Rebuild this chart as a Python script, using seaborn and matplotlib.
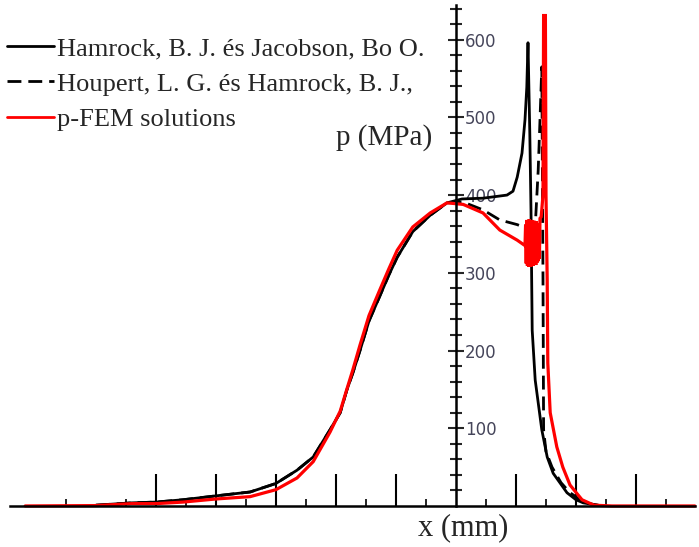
import numpy as np
import matplotlib as mpl
mpl.use("Agg")
import matplotlib.pyplot as plt
import seaborn as sns
from matplotlib.lines import Line2D

# Pressure distributions along x (x in tick units, p in MPa)
x_hamrock = [-6.0, -5.4, -5.0, -4.55, -4.0, -3.43, -3.0, -2.65, -2.38, -2.1, -1.93, -1.82,
             -1.72, -1.6, -1.45, -1.27, -1.12, -0.98, -0.72, -0.43, -0.15, 0.1, 0.45,
             0.85, 0.95, 1.02, 1.1, 1.15, 1.18, 1.2, 1.23, 1.25, 1.26, 1.27, 1.32, 1.43,
             1.52, 1.62, 1.85, 2.0, 2.12, 2.4]
p_hamrock = [1, 4, 5, 8, 13, 18, 29, 46, 63, 98, 120, 149,
             171, 200, 238, 270, 297, 320, 353, 374, 390, 395, 396,
             400, 405, 423, 454, 497, 539, 596, 480, 380, 300, 226, 162, 98,
             63, 42, 17, 8, 4, 0.5]

x_houpert = [-6.0, -5.4, -5.0, -4.55, -4.0, -3.43, -3.0, -2.65, -2.38, -2.1, -1.93, -1.82,
             -1.72, -1.6, -1.45, -1.27, -1.12, -0.98, -0.72, -0.43, -0.15, 0.12, 0.45,
             0.73, 1.02, 1.15, 1.25, 1.32, 1.37, 1.4, 1.43, 1.45, 1.46, 1.5, 1.6, 1.75,
             1.9, 2.15, 2.4]
p_houpert = [1, 4, 5, 8, 13, 18, 29, 46, 63, 98, 120, 149,
             171, 200, 238, 270, 297, 320, 353, 374, 390, 391, 381,
             368, 362, 358, 357, 359, 432, 497, 565, 291, 98, 70, 50, 30,
             17, 4, 0.5]

x_pfem = [-7.18, -6.0, -5.4, -5.0, -4.55, -4.0, -3.43, -3.0, -2.65, -2.38, -2.1, -1.93,
          -1.82, -1.72, -1.6, -1.45, -1.27, -1.12, -0.98, -0.72, -0.43, -0.15, 0.12,
          0.45, 0.73, 1.02, 1.15,
          1.16, 1.17, 1.18, 1.19, 1.2, 1.21, 1.22, 1.23, 1.24, 1.25, 1.26, 1.27, 1.28,
          1.29, 1.3, 1.31, 1.32, 1.33, 1.34, 1.35, 1.36, 1.37, 1.38, 1.39, 1.4,
          1.42, 1.45, 1.46, 1.49, 1.5, 1.52, 1.53, 1.57, 1.68, 1.78, 1.9, 2.1, 2.3,
          2.6, 3.98]
p_pfem = [0, 0.5, 3, 3, 5, 9, 12, 21, 36, 57, 95, 122,
          150, 175, 207, 245, 278, 305, 329, 359, 377, 390, 388,
          377, 355, 342, 335,
          362, 312, 368, 309, 366, 308, 369, 310, 367, 308, 368, 311, 366,
          309, 367, 312, 365, 310, 366, 313, 364, 315, 362, 318, 370,
          372, 400, 631, 631, 400, 291, 184, 120, 76, 50, 27, 8, 1,
          0, 0]

labels = ["Hamrock, B. J. és Jacobson, Bo O.",
          "Houpert, L. G. és Hamrock, B. J.,",
          "p-FEM solutions"]
y_ticks = [100, 200, 300, 400, 500, 600]

sns.set_style("white")
plt.rcParams["font.family"] = ["DejaVu Sans"]

fig = plt.figure(figsize=(6.99, 5.47), dpi=100)
ax = fig.add_axes([0, 0, 1, 1])

dash = (0, (5, 2.5))
sns.lineplot(x=x_hamrock, y=p_hamrock, sort=False, estimator=None, ax=ax,
             color="black", lw=2.0)
sns.lineplot(x=x_houpert, y=p_houpert, sort=False, estimator=None, ax=ax,
             color="black", lw=2.0, linestyle=dash)
sns.lineplot(x=x_pfem, y=p_pfem, sort=False, estimator=None, ax=ax,
             color="#ff0000", lw=2.3, solid_joinstyle="miter")

ax.set_xlim(-7.6, 4.05)
ax.set_ylim(-52.8, 651)

# axes crossing at the origin
for s in ["top", "left"]:
    ax.spines[s].set_visible(False)
ax.spines["right"].set_position(("data", 0))
ax.spines["bottom"].set_position(("data", 0))
ax.spines["right"].set_bounds(0, 645)
ax.spines["bottom"].set_bounds(-7.43, 3.98)
for s in ["right", "bottom"]:
    ax.spines[s].set_color("black")
    ax.spines[s].set_linewidth(1.8)

ax.yaxis.tick_right()
ax.set_yticks(y_ticks)
ax.set_yticks(np.arange(20, 660, 20), minor=True)
ax.tick_params(axis="y", which="major", direction="inout", length=11, width=1.5,
               pad=1, labelsize=12, labelcolor="#45455a", right=True)
ax.tick_params(axis="y", which="minor", direction="inout", length=8, width=1.5,
               right=True)

ax.set_xticks([-5, -4, -3, -2, -1, 1, 2, 3])
ax.set_xticks(np.arange(-6.5, 4, 1.0), minor=True)
ax.set_xticklabels([])
ax.tick_params(axis="x", which="major", direction="in", length=23, width=1.5,
               bottom=True, color="black")
ax.tick_params(axis="x", which="minor", direction="in", length=5, width=1.2,
               bottom=True, color="black")

ax.text(-1.2, 474, "p (MPa)", family="Liberation Serif", fontsize=21,
        ha="center", va="center")
ax.text(0.12, -28, "x (mm)", family="Liberation Serif", fontsize=22,
        ha="center", va="center")

handles = [Line2D([], [], color="black", lw=2.0),
           Line2D([], [], color="black", lw=2.0, linestyle=dash),
           Line2D([], [], color="#ff0000", lw=2.0)]
ax.legend(handles, labels, loc="upper left", bbox_to_anchor=(0.0, 0.945),
          frameon=False, handlelength=1.8, handletextpad=0.1, labelspacing=0.45,
          borderaxespad=0.05, borderpad=0.2,
          prop={"family": "Liberation Serif", "size": 19})

fig.savefig("out.png", dpi=100)
